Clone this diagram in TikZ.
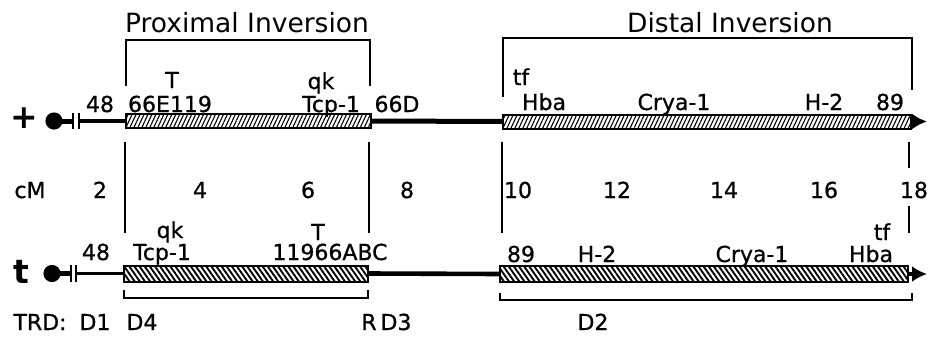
\documentclass[tikz,border=0pt]{standalone}
\usepackage{fontspec}
\setmainfont{DejaVu Sans}
\newfontfamily\lblfont{DejaVu Sans}[FakeBold=0.8]
\usetikzlibrary{arrows.meta,patterns.meta}

\begin{document}
\begin{tikzpicture}[
  x=0.5pt, y=-0.5pt,
  lbl/.style={anchor=base, inner sep=0pt, font=\lblfont\fontsize{11}{13}\selectfont},
  ttl/.style={anchor=base, inner sep=0pt, font=\fontsize{13.25}{16}\selectfont},
  chromname/.style={anchor=base, inner sep=0pt, font=\fontsize{16.5}{18}\selectfont\bfseries},
  wildbox/.style={draw, line width=1pt, inner sep=0pt, outer sep=0pt, minimum height=7pt, anchor=west,
    pattern={Lines[angle=65, distance=1.8pt, line width=0.55pt]}},
  tbox/.style={draw, line width=1pt, inner sep=0pt, outer sep=0pt, minimum height=8pt, anchor=west,
    pattern={Lines[angle=-55, distance=2.1pt, line width=0.95pt]}},
  brk/.style={line width=1pt},
  bar/.style={line width=1pt},
  tip/.style={-{Latex[length=7.5pt, width=8pt]}, line width=2.2pt}
]
\useasboundingbox (0,0) rectangle (928,338);

% titles
\node[ttl] (ptitle) at (247,32) {Proximal Inversion};
\node[ttl] (dtitle) at (730,32) {Distal Inversion};

% + chromosome
\node[chromname] (plus) at (24,128) {+};
\coordinate (cenP) at (54,121);
\coordinate (barP) at (73,121);
\coordinate (endP) at (927,121.5);
\fill (cenP) circle (4.3pt);
\draw[line width=2.5pt] (cenP) -- (barP);
\draw[bar] (73,113) -- (73,129) (78.5,113) -- (78.5,129);
\node[wildbox, minimum width=122.5pt] (pinv) at (126,121) {};
\node[wildbox, minimum width=204pt] (dinv) at (503,121.5) {};
\draw[line width=2pt] (78.5,121) -- (pinv.west);
\draw[line width=2.5pt] (pinv.east) -- (dinv.west);
\draw[tip] (dinv.east) -- (endP);

% t chromosome
\node[chromname] (tchrom) at (21,283) {t};
\coordinate (cenT) at (52,273.5);
\coordinate (barT) at (70.5,273.5);
\coordinate (endT) at (927,274);
\fill (cenT) circle (4.3pt);
\draw[line width=2.5pt] (cenT) -- (barT);
\draw[bar] (70.5,265) -- (70.5,282) (76,265) -- (76,282);
\node[tbox, minimum width=122pt] (tprox) at (124,273.5) {};
\node[tbox, minimum width=204pt] (tdist) at (500,274) {};
\draw[line width=1.5pt] (76,273.5) -- (tprox.west);
\draw[line width=2.3pt] (tprox.east) -- (tdist.west);
\draw[tip] (tdist.east) -- (endT);

% inversion brackets
\draw[brk] (126,86) -- (126,40) -- (370,40) -- (370,86);
\draw[brk] (503,97) -- (503,38) -- (912,38) -- (912,90);
\draw[brk] (125,142) -- (125,233) (369,142) -- (369,233);
\draw[brk] (502,142) -- (502,233);
\draw[brk] (909,142) -- (909,168) (909,206) -- (909,233);
\draw[brk] (124,290) -- (124,298) -- (368,298) -- (368,290);
\draw[brk] (500,293) -- (500,300) -- (912,300) -- (912,293);

% + labels
\node[lbl] (p48) at (100,112) {48};
\node[lbl] (pT) at (172,88) {T};
\node[lbl] (p66E) at (170,112) {66E119};
\node[lbl] (pqk) at (321,89) {qk};
\node[lbl] (pTcp) at (331,112) {Tcp-1};
\node[lbl] (p66D) at (397,112) {66D};
\node[lbl] (ptf) at (521,85) {tf};
\node[lbl] (pHba) at (544,110) {Hba};
\node[lbl] (pCrya) at (674,110) {Crya-1};
\node[lbl] (pH2) at (824,110) {H-2};
\node[lbl] (p89) at (890,110) {89};

% cM scale
\foreach \x/\v in {30/cM, 100/2, 200/4, 308/6, 407/8, 518/10, 617/12, 724/14, 824/16, 914/18}
  \node[lbl] (cm\v) at (\x,198) {\v};

% t labels
\node[lbl] (t48) at (96,260) {48};
\node[lbl] (tqk) at (170,238) {qk};
\node[lbl] (tTcp) at (162,260) {Tcp-1};
\node[lbl] (tT) at (318,240) {T};
\node[lbl] (t119) at (330,260) {11966ABC};
\node[lbl] (t89) at (521,262) {89};
\node[lbl] (tH2) at (597,262) {H-2};
\node[lbl] (tCrya) at (752,262) {Crya-1};
\node[lbl] (tHba) at (871,262) {Hba};
\node[lbl] (ttf) at (882,240) {tf};

% TRD loci
\node[lbl] (trd) at (40,330) {TRD:};
\node[lbl] (d1) at (95,330) {D1};
\node[lbl] (d4) at (142,330) {D4};
\node[lbl] (rr) at (369,330) {R};
\node[lbl] (d3) at (396,330) {D3};
\node[lbl] (d2) at (593,330) {D2};
\end{tikzpicture}
\end{document}
